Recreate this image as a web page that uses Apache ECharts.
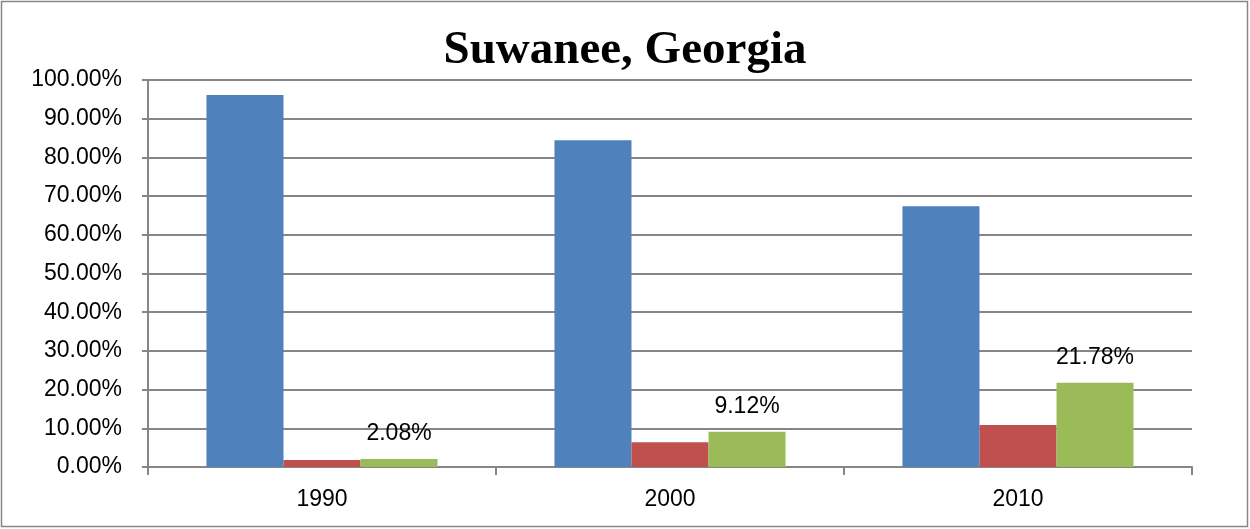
<html>
<head>
    <meta charset="UTF-8">
    <title>Suwanee, Georgia</title>
    <style>
        body { margin: 0; background: #fff; }
    </style>
    <script src="https://cdn.jsdelivr.net/npm/echarts@6/dist/echarts.min.js"></script>
</head>
<body>
<div id="main" style="width: 1250px;height:529px;"></div>
<script>
    // data
    var years = ['1990', '2000', '2010'];
    var seriesA = [0.9610, 0.8445, 0.6740];
    var seriesB = [0.0180, 0.0640, 0.1085];
    var seriesC = [0.0208, 0.0912, 0.2178];

    var myChart = echarts.init(document.getElementById('main'));

    var option = {
        animation: false,
        backgroundColor: '#fff',
        title: {
            text: 'Suwanee, Georgia',
            left: 'center',
            top: 22,
            textStyle: {
                fontFamily: 'Liberation Serif',
                fontWeight: 'bold',
                fontSize: 47,
                color: '#000'
            }
        },
        graphic: [{
            type: 'rect',
            shape: { x: 1.5, y: 1.5, width: 1246, height: 525 },
            style: { fill: 'none', stroke: '#868686', lineWidth: 1.5 },
            silent: true
        }],
        grid: { left: 148, right: 58, top: 80, bottom: 62 },
        xAxis: {
            type: 'category',
            data: years,
            axisLine: { lineStyle: { color: '#868686', width: 2 } },
            axisTick: { show: true, length: 8, lineStyle: { color: '#868686', width: 2 } },
            axisLabel: {
                margin: 21,
                fontFamily: 'Liberation Sans',
                fontSize: 23,
                color: '#000'
            }
        },
        yAxis: {
            type: 'value',
            min: 0,
            max: 1,
            interval: 0.1,
            axisLine: { show: true, lineStyle: { color: '#868686', width: 2 } },
            axisTick: { show: true, length: 6, lineStyle: { color: '#868686', width: 2 } },
            splitLine: { lineStyle: { color: '#868686', width: 2 } },
            axisLabel: {
                margin: 26,
                fontFamily: 'Liberation Sans',
                fontSize: 23,
                color: '#000',
                formatter: function (v) { return (v * 100).toFixed(2) + '%'; }
            }
        },
        series: [
            {
                type: 'bar',
                data: seriesA,
                barGap: '0%',
                barCategoryGap: '33.6%',
                itemStyle: { color: '#4f81bd' }
            },
            {
                type: 'bar',
                data: seriesB,
                itemStyle: { color: '#c0504d' }
            },
            {
                type: 'bar',
                data: seriesC,
                itemStyle: { color: '#9bbb59' },
                label: {
                    show: true,
                    position: 'top',
                    distance: 14,
                    fontFamily: 'Liberation Sans',
                    fontSize: 23,
                    color: '#000',
                    formatter: function (p) { return (p.value * 100).toFixed(2) + '%'; }
                }
            }
        ]
    };
    myChart.setOption(option);
</script>
</body>
</html>
